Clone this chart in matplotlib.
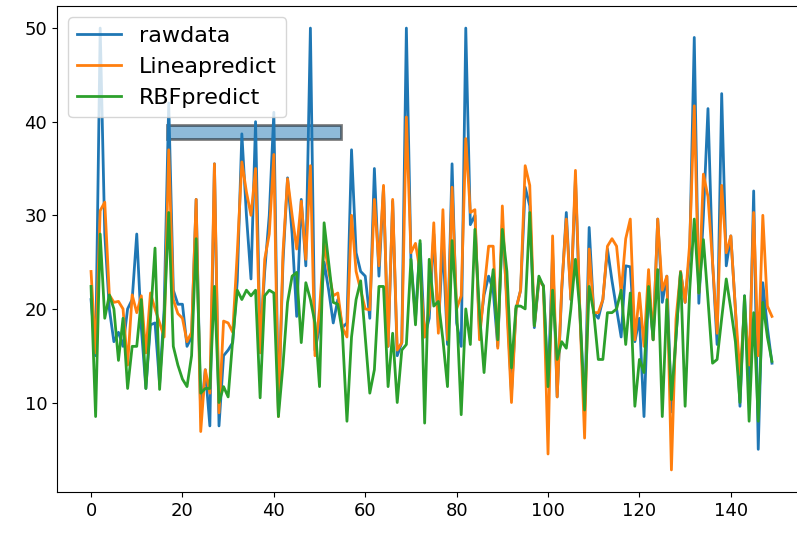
import numpy as np
import matplotlib
matplotlib.use("Agg")
import matplotlib.pyplot as plt
from matplotlib.patches import Rectangle

# values, index 0..149
rawdata = [21, 15, 50, 28, 20, 16.5, 17.5, 16, 20, 21,
           28, 18, 11.5, 18.3, 18.5, 12, 20, 42, 22, 20.5,
           20.5, 16, 17, 31.7, 8.5, 13.5, 7.5, 35.5, 7.5, 15,
           15.6, 16.4, 23, 38.7, 30, 23.2, 40, 16, 24, 30,
           41, 9, 25, 34, 28, 19.2, 31.7, 24.6, 50, 15.6,
           18, 25, 22, 18.5, 21, 18, 18.5, 37, 26, 24,
           23.5, 19, 35, 23.5, 33, 16, 31.5, 15, 16.4, 50,
           25.3, 19, 27, 17, 19, 28, 18, 27, 16.2, 35.5,
           18.5, 16, 50, 29, 30, 17.5, 21.5, 23.5, 22, 16,
           29, 21, 11, 20, 22, 33, 31, 18, 23, 22.5,
           11.7, 26, 10.6, 22, 30.3, 21, 34, 19.2, 8.9, 28.7,
           19.6, 19, 21, 26.4, 23, 20, 17, 24.6, 24.5, 16.5,
           19, 8.5, 22.4, 16.7, 29.6, 20.7, 23.5, 9, 17, 24,
           20.7, 26, 49, 20.6, 30, 41.4, 25, 16.2, 43, 24.6,
           27.8, 20, 9.6, 21.4, 12, 32.6, 5, 22.8, 18, 14.2]

linea = [24, 15.3, 30.5, 31.4, 21.5, 20.7, 20.8, 20, 14, 21.5,
         19.6, 21.4, 15.3, 21.7, 20, 18.5, 17, 37, 21, 19.5,
         19, 16.5, 17.5, 31.7, 6.9, 13.5, 11, 35.5, 8.9, 18.7,
         18.5, 17.5, 26, 35.7, 32.5, 30, 35, 15.3, 25.3, 28,
         36.5, 8.5, 26, 33.9, 30, 26.4, 31.5, 25.3, 35.3, 15,
         20, 27, 24, 21.4, 21.7, 18, 17, 30, 24, 22,
         20, 19.9, 31.7, 24.6, 33.2, 16, 31.7, 15.6, 16.4, 40.5,
         26, 27, 24, 17, 20, 29.2, 17.4, 30.6, 16.7, 33,
         20, 21.4, 38.2, 30.3, 30.6, 16.7, 22, 26.7, 26.7, 15.8,
         31, 20, 10, 20, 22, 35.3, 33.2, 18.2, 23.2, 22.4,
         4.5, 27.8, 10.6, 22.4, 29.6, 21, 34.8, 19.2, 6.2, 26.4,
         19.6, 19.6, 21, 26.7, 27.5, 26.7, 21.7, 27.5, 29.6, 16.7,
         21.7, 16, 24.2, 16.7, 29.6, 22, 23.5, 2.8, 18.9, 24,
         20.7, 27, 41.7, 21.7, 34.4, 32, 25, 17.4, 33.2, 26,
         27.8, 20, 13, 20, 14, 30.3, 15, 30, 20.3, 19.2]

rbf = [22.4, 8.5, 28, 19, 21.5, 20, 14.5, 19, 11.5, 16,
       16, 21, 11.5, 19, 26.5, 11.4, 19, 30.3, 16, 14,
       12.5, 11.7, 15, 27.5, 11, 11.5, 11.5, 22.4, 10, 11.7,
       10.6, 16.7, 22, 21, 22, 21.4, 22, 10.5, 21.4, 22,
       21.7, 8.5, 14, 20.7, 23.5, 23.9, 16.4, 22.8, 21, 18.5,
       11.7, 29.2, 25, 20.7, 20.5, 17.5, 8, 17, 21, 23,
       17, 11, 13.5, 22.4, 22.4, 11.7, 17.4, 10, 15.6, 16.2,
       25.3, 18.3, 27.3, 7.8, 25.3, 20.3, 20.8, 16.7, 11.7, 27.3,
       20, 8.7, 20, 16.2, 28.5, 19.6, 13.2, 20, 24.2, 16.7,
       28.5, 24, 13.7, 20.3, 20.3, 20, 30.3, 18.2, 23.5, 22.4,
       11.7, 22, 14.6, 16.5, 15.8, 20, 25.3, 19.6, 9.2, 22.4,
       19.6, 14.6, 14.6, 19.6, 19.6, 20, 22, 16.2, 21.7, 9.6,
       14.6, 13.2, 22.4, 16.7, 24.2, 8.5, 21, 10.3, 17, 23.9,
       9.6, 22, 29.6, 21.7, 27.4, 21, 14.2, 14.6, 19, 23.2,
       20, 16.5, 10, 21.4, 8, 19.6, 8, 20.7, 17, 14.4]

x = np.arange(len(rawdata))

fig = plt.figure(figsize=(7.97, 5.35), dpi=100)
ax = fig.add_axes([57/797, 1-492/535, (806-57)/797, (492-6)/535])

ax.plot(x, rawdata, label="rawdata", lw=2)
ax.plot(x, linea, label="Lineapredict", lw=2)
ax.plot(x, rbf, label="RBFpredict", lw=2)

# the box drawn over the chart
ax.add_patch(Rectangle((16.7, 38.1), 37.9, 1.6, facecolor="tab:blue",
                       edgecolor="black", lw=2, alpha=0.5))

ax.tick_params(labelsize=13)
ax.legend(loc="upper left", fontsize=16)

fig.savefig("out.png", dpi=100)
